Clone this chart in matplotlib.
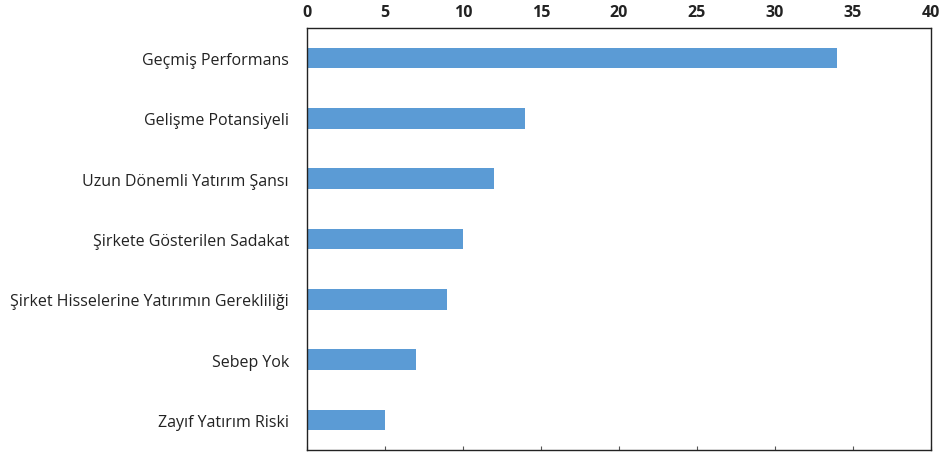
import matplotlib.pyplot as plt
import numpy as np

# reasons and counts, top to bottom
categories = ["Geçmiş Performans", "Gelişme Potansiyeli", "Uzun Dönemli Yatırım Şansı",
              "Şirkete Gösterilen Sadakat", "Şirket Hisselerine Yatırımın Gerekliliği",
              "Sebep Yok", "Zayıf Yatırım Riski"]
values = [34, 14, 12, 10, 9, 7, 5]
xticks = [0, 5, 10, 15, 20, 25, 30, 35, 40]

plt.rcParams['font.family'] = ['Open Sans', 'DejaVu Sans']

fig = plt.figure(figsize=(9.41, 4.56), dpi=100)
ax = fig.add_axes([307/941, 5/456, 624/941, 422/456])

y = np.arange(len(categories))
ax.barh(y, values, height=0.34, color='#5B9BD5')

ax.set_ylim(len(categories) - 0.5, -0.5)
ax.set_xlim(0, 40)
ax.set_yticks(y)
ax.set_yticklabels(categories, fontsize=11.5, color='#222222')
ax.tick_params(axis='y', length=0, pad=13)

ax.set_xticks(xticks)
ax.xaxis.set_ticks_position('bottom')
ax.tick_params(axis='x', direction='in', length=3, width=0.8, color='#555555',
               labelbottom=False, labeltop=True, pad=6)
for lab in ax.get_xticklabels():
    lab.set_fontweight('bold')
    lab.set_fontsize(11.5)
    lab.set_color('#222222')

for s in ax.spines.values():
    s.set_linewidth(1.0)
    s.set_color('#222222')

plt.savefig('out.png', dpi=100)
